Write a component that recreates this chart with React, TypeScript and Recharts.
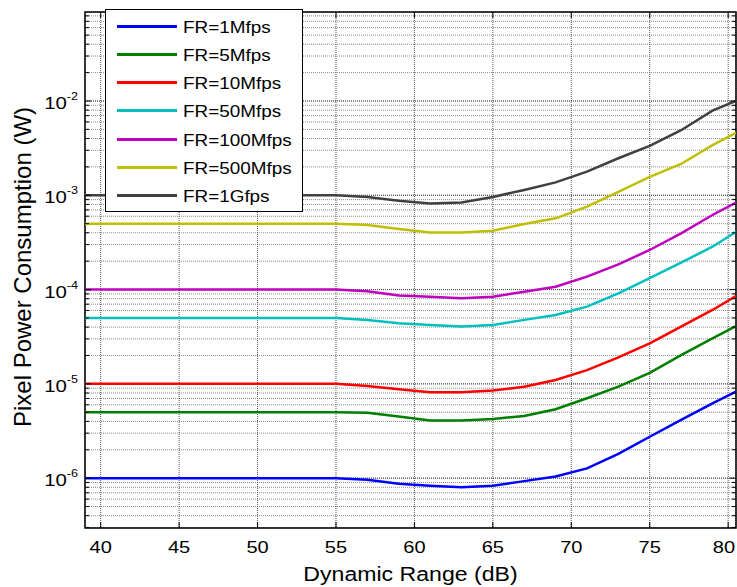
import {
  CartesianGrid,
  Legend,
  Line,
  LineChart,
  ReferenceArea,
  ReferenceLine,
  XAxis,
  YAxis,
} from "recharts";

// dynamic range (dB), sampled every 2 dB
const dynamicRange = [39, 41, 43, 45, 47, 49, 51, 53, 55, 57, 59, 61, 63, 65, 67, 69, 71, 73, 75, 77, 79, 80.5];

// pixel power (W) per frame rate
const fr1M = [1e-6, 1e-6, 1e-6, 1e-6, 1e-6, 1e-6, 1e-6, 1e-6, 1e-6, 0.96e-6, 0.87e-6, 0.83e-6, 0.8e-6, 0.83e-6, 0.93e-6, 1.04e-6, 1.27e-6, 1.81e-6, 2.75e-6, 4.14e-6, 6.22e-6, 8.26e-6];
const fr5M = [5e-6, 5e-6, 5e-6, 5e-6, 5e-6, 5e-6, 5e-6, 5e-6, 5e-6, 4.95e-6, 4.5e-6, 4.08e-6, 4.08e-6, 4.25e-6, 4.57e-6, 5.38e-6, 7.03e-6, 9.33e-6, 1.31e-5, 2.02e-5, 3.04e-5, 4.11e-5];
const fr10M = [1e-5, 1e-5, 1e-5, 1e-5, 1e-5, 1e-5, 1e-5, 1e-5, 1e-5, 0.95e-5, 0.877e-5, 0.815e-5, 0.815e-5, 0.848e-5, 0.933e-5, 1.1e-5, 1.4e-5, 1.91e-5, 2.69e-5, 4.05e-5, 6.08e-5, 8.55e-5];
const fr50M = [5e-5, 5e-5, 5e-5, 5e-5, 5e-5, 5e-5, 5e-5, 5e-5, 5e-5, 4.77e-5, 4.4e-5, 4.22e-5, 4.05e-5, 4.22e-5, 4.77e-5, 5.38e-5, 6.6e-5, 9.13e-5, 1.32e-4, 1.93e-4, 2.85e-4, 4.11e-4];
const fr100M = [1e-4, 1e-4, 1e-4, 1e-4, 1e-4, 1e-4, 1e-4, 1e-4, 1e-4, 0.96e-4, 0.863e-4, 0.84e-4, 0.81e-4, 0.84e-4, 0.95e-4, 1.07e-4, 1.37e-4, 1.85e-4, 2.63e-4, 3.95e-4, 6.18e-4, 8.36e-4];
const fr500M = [5e-4, 5e-4, 5e-4, 5e-4, 5e-4, 5e-4, 5e-4, 5e-4, 5e-4, 4.84e-4, 4.4e-4, 4.04e-4, 4.04e-4, 4.2e-4, 4.97e-4, 5.7e-4, 7.57e-4, 1.09e-3, 1.57e-3, 2.15e-3, 3.41e-3, 4.6e-3];
const fr1G = [1e-3, 1e-3, 1e-3, 1e-3, 1e-3, 1e-3, 1e-3, 1e-3, 1e-3, 0.96e-3, 0.877e-3, 0.82e-3, 0.84e-3, 0.96e-3, 1.14e-3, 1.37e-3, 1.78e-3, 2.47e-3, 3.35e-3, 4.9e-3, 7.9e-3, 1.0e-2];

const seriesKeys = ["fr1M", "fr5M", "fr10M", "fr50M", "fr100M", "fr500M", "fr1G"];
const seriesNames = ["FR=1Mfps", "FR=5Mfps", "FR=10Mfps", "FR=50Mfps", "FR=100Mfps", "FR=500Mfps", "FR=1Gfps"];
const seriesColors = ["#0000ff", "#007f00", "#ff0000", "#00bfbf", "#bf00bf", "#bfbf00", "#404040"];
const seriesValues = [fr1M, fr5M, fr10M, fr50M, fr100M, fr500M, fr1G];

const xTicks = [40, 45, 50, 55, 60, 65, 70, 75, 80];
const xDomain = [39, 80.5];
const yDecades = [1e-7, 1e-6, 1e-5, 1e-4, 1e-3, 1e-2];
const yMinorSteps = [1, 2, 3, 4, 5, 6, 7, 8, 9];
const yDomain = [2.96e-7, 0.0879];

const yTicks = yDecades
  .flatMap((d) => yMinorSteps.map((s) => s * d))
  .filter((v) => v >= yDomain[0] && v <= yDomain[1]);
const yMajor = yDecades.filter((v) => v >= yDomain[0] && v <= yDomain[1]);

const data = dynamicRange.map((dr, i) => {
  const row: Record<string, number> = { dr };
  seriesKeys.forEach((k, j) => {
    row[k] = seriesValues[j][i];
  });
  return row;
});

const FONT = "'Liberation Sans', Arial, sans-serif";
const PLOT_LEFT = 85;
const PLOT_RIGHT = 736;
const PLOT_TOP = 12;
const PLOT_BOTTOM = 528;

function YTick(props: any) {
  const { y, payload } = props;
  const e = Math.log10(payload.value);
  const isDecade = Math.abs(e - Math.round(e)) < 1e-6;
  const len = isDecade ? 6 : 4;
  return (
    <g>
      <line x1={PLOT_LEFT} x2={PLOT_LEFT + len} y1={y} y2={y} stroke="#000" />
      <line x1={PLOT_RIGHT - len} x2={PLOT_RIGHT} y1={y} y2={y} stroke="#000" />
      {isDecade && (
        <g transform={`translate(78, ${y + 8}) scale(1.2, 1)`}>
          <text x={0} y={0} textAnchor="end" fontSize={17} fontFamily={FONT} fill="#000">
            10
            <tspan dy={-9} fontSize={10.5}>
              {Math.round(e)}
            </tspan>
          </text>
        </g>
      )}
    </g>
  );
}

function XTick(props: any) {
  const { x, payload } = props;
  // keep the last label inside the page edge
  const tx = Math.min(x, 724);
  return (
    <g>
      <line x1={x} x2={x} y1={PLOT_BOTTOM} y2={PLOT_BOTTOM - 6} stroke="#000" />
      <line x1={x} x2={x} y1={PLOT_TOP} y2={PLOT_TOP + 6} stroke="#000" />
      <g transform={`translate(${tx}, 553) scale(1.18, 1)`}>
        <text x={0} y={0} textAnchor="middle" fontSize={17} fontFamily={FONT} fill="#000">
          {payload.value}
        </text>
      </g>
    </g>
  );
}

function LegendBox() {
  return (
    <div
      style={{
        position: "relative",
        width: 198,
        height: 203,
        boxSizing: "border-box",
        border: "1px solid #000",
        background: "#fff",
        fontFamily: FONT,
      }}
    >
      {seriesNames.map((name, i) => {
        const cy = 16 + i * 28.33;
        return (
          <div key={name}>
            <div
              style={{
                position: "absolute",
                left: 11,
                top: cy - 1.5,
                width: 60,
                height: 3,
                background: seriesColors[i],
              }}
            />
            <div
              style={{
                position: "absolute",
                left: 77,
                top: cy - 6.5,
                fontSize: 16,
                lineHeight: "16px",
                whiteSpace: "nowrap",
                transform: "scaleX(1.18)",
                transformOrigin: "left center",
                color: "#000",
              }}
            >
              {name}
            </div>
          </div>
        );
      })}
    </div>
  );
}

export default function App() {
  return (
    <div style={{ position: "absolute", left: 0, top: 0, width: 737, height: 587, background: "#fff" }}>
      <LineChart width={737} height={587} data={data} margin={{ top: 12, right: 1, left: 0, bottom: 0 }}>
        <CartesianGrid horizontal vertical={false} stroke="#8a8a8a" strokeDasharray="1 1" />
        <CartesianGrid horizontal={false} vertical stroke="#555" strokeDasharray="1 1" />
        {yMajor.map((v) => (
          <ReferenceLine key={v} y={v} stroke="#444" strokeDasharray="1 1" />
        ))}
        <XAxis
          dataKey="dr"
          type="number"
          domain={xDomain}
          ticks={xTicks}
          interval={0}
          allowDataOverflow
          height={59}
          axisLine={false}
          tickLine={false}
          tick={(p: any) => <XTick {...p} />}
          label={{
            content: () => (
              <g transform="translate(410.5, 581) scale(1.1, 1)">
                <text x={0} y={0} textAnchor="middle" fontSize={21} fontFamily={FONT} fill="#000">
                  Dynamic Range (dB)
                </text>
              </g>
            ),
          }}
        />
        <YAxis
          type="number"
          scale="log"
          domain={yDomain}
          ticks={yTicks}
          interval={0}
          allowDataOverflow
          width={85}
          axisLine={false}
          tickLine={false}
          tick={(p: any) => <YTick {...p} />}
          label={{
            content: () => (
              <text
                x={31}
                y={267}
                transform="rotate(-90, 31, 267)"
                textAnchor="middle"
                fontSize={24}
                fontFamily={FONT}
                fill="#000"
              >
                Pixel Power Consumption (W)
              </text>
            ),
          }}
        />
        {seriesKeys.map((k, i) => (
          <Line
            key={k}
            type="linear"
            dataKey={k}
            name={seriesNames[i]}
            stroke={seriesColors[i]}
            strokeWidth={2.5}
            dot={false}
            activeDot={false}
            isAnimationActive={false}
          />
        ))}
        <ReferenceArea
          x1={xDomain[0]}
          x2={xDomain[1]}
          y1={yDomain[0]}
          y2={yDomain[1]}
          fill="none"
          fillOpacity={0}
          stroke="#000"
          strokeWidth={1.5}
        />
        <Legend
          layout="vertical"
          align="center"
          verticalAlign="middle"
          wrapperStyle={{ position: "absolute", left: 105, top: 9, width: 198, height: 203 }}
          content={() => <LegendBox />}
        />
      </LineChart>
    </div>
  );
}
